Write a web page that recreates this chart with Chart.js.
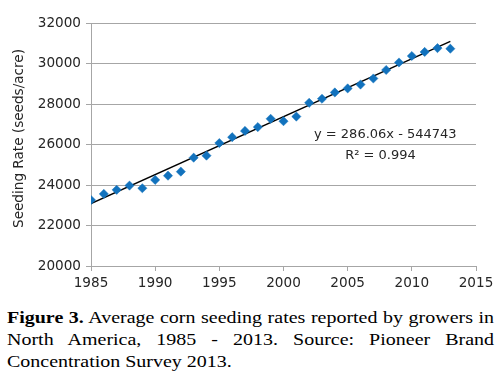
<!DOCTYPE html>
<html>
<head>
<meta charset="utf-8">
<script src="https://cdn.jsdelivr.net/npm/chart.js@4"></script>
<style>
  html, body { margin: 0; padding: 0; background: #fff; }
  body { width: 502px; height: 373px; position: relative; overflow: hidden; }
  #wrap { position: absolute; left: 0; top: 0; width: 502px; height: 300px; }
  #caption { position: absolute; left: 7px; top: 307px; width: 431px;
    transform: scaleX(1.13); transform-origin: 0 0;
    font-family: "Liberation Serif", "Times New Roman", serif; font-size: 17.7px;
    line-height: 21.8px; color: #000; }
  #caption .j { text-align: justify; text-align-last: justify; white-space: nowrap; }
  #caption .l { text-align: left; white-space: nowrap; }
</style>
</head>
<body>
<div id="wrap"><canvas id="c" width="502" height="300"></canvas></div>
<div id="caption">
  <div class="j"><b>Figure 3.</b> Average corn seeding rates reported by growers in</div>
  <div class="j">North America, 1985 - 2013. Source: Pioneer Brand</div>
  <div class="l">Concentration Survey 2013.</div>
</div>
<script>
const years = [1985,1986,1987,1988,1989,1990,1991,1992,1993,1994,1995,1996,1997,1998,1999,2000,2001,2002,2003,2004,2005,2006,2007,2008,2009,2010,2011,2012,2013];
const rates = [23260,23560,23760,23970,23840,24250,24460,24660,25350,25450,26070,26360,26670,26860,27270,27150,27380,28060,28260,28570,28770,28960,29260,29680,30050,30370,30570,30760,30730];
const trendYears = [1985, 2013];
const trendRates = [23086, 31096];
const yAxisTitle = 'Seeding Rate (seeds/acre)';
const equationText = 'y = 286.06x - 544743';
const r2Text = 'R\u00B2 = 0.994';

const FONT = '"DejaVu Sans", Verdana, sans-serif';
const TEXT = '#262626';
const GRID = '#a6a6a6';

const extraText = {
  id: 'extraText',
  afterDraw(chart) {
    const ctx = chart.ctx;
    const a = chart.chartArea;
    ctx.save();
    ctx.fillStyle = TEXT;
    ctx.font = '13.6px ' + FONT;
    ctx.textAlign = 'center';
    ctx.textBaseline = 'middle';
    ctx.translate(19, a.top + 115.5);
    ctx.rotate(-Math.PI / 2);
    ctx.fillText(yAxisTitle, 0, 0);
    ctx.restore();
    ctx.save();
    ctx.fillStyle = TEXT;
    ctx.font = '13px ' + FONT;
    ctx.textAlign = 'center';
    ctx.textBaseline = 'middle';
    ctx.fillText(equationText, a.left + 294.3, a.top + 112);
    ctx.fillText(r2Text, a.left + 289.5, a.top + 132.7);
    ctx.restore();
  }
};

new Chart(document.getElementById('c'), {
  type: 'scatter',
  data: {
    datasets: [
      {
        label: 'Trend',
        type: 'line',
        data: trendYears.map((x, i) => ({ x, y: trendRates[i] })),
        borderColor: '#000',
        borderWidth: 1.4,
        pointRadius: 0,
        fill: false,
        order: 2
      },
      {
        label: 'Seeding rate',
        data: years.map((x, i) => ({ x, y: rates[i] })),
        pointStyle: 'rectRot',
        pointRadius: 4.6,
        pointBackgroundColor: '#1272BD',
        pointBorderColor: '#1272BD',
        pointBorderWidth: 0.5,
        order: 1
      }
    ]
  },
  options: {
    responsive: false,
    animation: false,
    layout: { padding: { left: 0, top: 23, right: 26, bottom: 0 } },
    plugins: { legend: { display: false }, tooltip: { enabled: false } },
    scales: {
      x: {
        type: 'linear',
        min: 1985, max: 2015,
        afterFit: (s) => { s.height = 34; },
        ticks: { stepSize: 5, color: TEXT, font: { family: FONT, size: 13.6 }, padding: 4, maxRotation: 0,
                 callback: (v) => String(v) },
        grid: { drawOnChartArea: false, drawTicks: true, tickLength: 5, color: GRID },
        border: { color: GRID, width: 1 }
      },
      y: {
        min: 20000, max: 32000,
        afterFit: (s) => { s.width = 91; },
        ticks: { stepSize: 2000, color: TEXT, font: { family: FONT, size: 13.6 }, padding: 5,
                 callback: (v) => String(v) },
        grid: { color: GRID, tickLength: 5, lineWidth: 1 },
        border: { color: GRID, width: 1 }
      }
    }
  },
  plugins: [extraText]
});
</script>
</body>
</html>
